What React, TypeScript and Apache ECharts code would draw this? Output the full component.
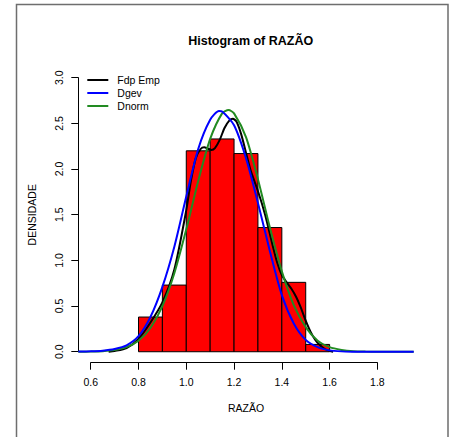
import React, { useEffect, useRef } from "react";
import * as echarts from "echarts";

// Histogram bins (class limits) and their densities
const breaks = [0.8, 0.9, 1.0, 1.1, 1.2, 1.3, 1.4, 1.5, 1.6];
const densities = [0.38, 0.73, 2.2, 2.33, 2.17, 1.36, 0.76, 0.08];

// Empirical density (kernel estimate)
const empX = [0.675, 0.7, 0.75, 0.8, 0.85, 0.9, 0.95, 1.0, 1.02, 1.04, 1.06, 1.075, 1.09, 1.105, 1.12, 1.14, 1.16, 1.18, 1.195, 1.21, 1.23, 1.25, 1.27, 1.3, 1.33, 1.36, 1.38, 1.4, 1.42, 1.44, 1.46, 1.48, 1.5, 1.52, 1.54, 1.56, 1.58, 1.6, 1.615];
const empY = [0.0, 0.008, 0.04, 0.14, 0.32, 0.54, 0.9, 1.55, 1.88, 2.12, 2.22, 2.24, 2.225, 2.21, 2.23, 2.32, 2.45, 2.53, 2.55, 2.52, 2.38, 2.18, 1.98, 1.76, 1.5, 1.18, 0.98, 0.84, 0.76, 0.69, 0.6, 0.48, 0.34, 0.22, 0.13, 0.07, 0.03, 0.01, 0.0];

// Fitted GEV density
const gevX = [0.548, 0.6, 0.65, 0.7, 0.75, 0.8, 0.85, 0.9, 0.95, 1.0, 1.05, 1.1, 1.137, 1.15, 1.2, 1.25, 1.3, 1.35, 1.4, 1.45, 1.5, 1.55, 1.6, 1.65, 1.7, 1.75, 1.85, 1.952];
const gevY = [0.002, 0.005, 0.012, 0.03, 0.07, 0.17, 0.38, 0.71, 1.15, 1.7, 2.22, 2.54, 2.635, 2.63, 2.48, 2.12, 1.63, 1.1, 0.62, 0.31, 0.13, 0.05, 0.015, 0.004, 0.001, 0, 0, 0];

// Fitted normal density
const normX = [0.548, 0.6, 0.65, 0.7, 0.75, 0.8, 0.85, 0.9, 0.95, 1.0, 1.05, 1.1, 1.15, 1.177, 1.2, 1.25, 1.3, 1.35, 1.4, 1.45, 1.5, 1.55, 1.6, 1.65, 1.7, 1.75, 1.8, 1.85, 1.952];
const normY = [0.0005, 0.002, 0.006, 0.018, 0.05, 0.12, 0.26, 0.5, 0.86, 1.34, 1.87, 2.33, 2.61, 2.646, 2.61, 2.35, 1.89, 1.36, 0.88, 0.51, 0.27, 0.12, 0.05, 0.02, 0.006, 0.002, 0.0005, 0.0001, 0];

const xTickMin = 0.6;
const xTickMax = 1.8;
const xTickStep = 0.2;
const yTickMin = 0;
const yTickMax = 3;
const yTickStep = 0.5;

const FONT = "Liberation Sans, Arial, Helvetica, sans-serif";

function zip(xs: number[], ys: number[]) {
  return xs.map((x, i) => [x, ys[i]]);
}

export default function App() {
  const ref = useRef<HTMLDivElement>(null);

  useEffect(() => {
    if (!ref.current) return;
    const chart = echarts.init(ref.current, undefined, { renderer: "svg" });

    const bins = densities.map((d, i) => [breaks[i], breaks[i + 1], d]);

    const lineSeries = (name: string, xs: number[], ys: number[], color: string) => ({
      name,
      type: "line",
      xAxisIndex: 0,
      yAxisIndex: 0,
      data: zip(xs, ys),
      symbol: "none",
      smooth: 0.25,
      clip: true,
      lineStyle: { color, width: 2 },
      itemStyle: { color },
      z: 3,
    });

    chart.setOption({
      animation: false,
      backgroundColor: "#ffffff",
      title: {
        text: "Histogram of RAZÃO",
        left: 245.7,
        top: 29,
        textAlign: "center",
        textStyle: { fontFamily: FONT, fontSize: 12.5, fontWeight: "bold", color: "#000" },
      },
      legend: {
        data: [
          { name: "Fdp Emp", icon: "rect" },
          { name: "Dgev", icon: "rect" },
          { name: "Dnorm", icon: "rect" },
        ],
        orient: "vertical",
        left: 87.3,
        top: 73.5,
        padding: 0,
        itemWidth: 21,
        itemHeight: 2,
        itemGap: 0,
        selectedMode: false,
        textStyle: { fontFamily: FONT, fontSize: 10.5, lineHeight: 13, color: "#000", padding: [0, 0, 0, 4] },
      },
      grid: [
        { left: 78.3, top: 66.8, width: 335.4, height: 295.9 },
        { left: 90.7, top: 66.8, width: 286.7, height: 295.9 },
        { left: 78.3, top: 77.7, width: 335.4, height: 274 },
      ],
      xAxis: [
        {
          gridIndex: 0,
          type: "value",
          min: 0.548,
          max: 1.952,
          axisLine: { show: false },
          axisTick: { show: false },
          axisLabel: { show: false },
          splitLine: { show: false },
          name: "RAZÃO",
          nameLocation: "middle",
          nameGap: 40,
          nameTextStyle: { fontFamily: FONT, fontSize: 10.5, color: "#000" },
        },
        {
          gridIndex: 1,
          type: "value",
          min: xTickMin,
          max: xTickMax,
          interval: xTickStep,
          axisLine: { show: true, lineStyle: { color: "#000", width: 1 } },
          axisTick: { show: true, length: 7, lineStyle: { color: "#000", width: 1 } },
          axisLabel: {
            margin: 19,
            verticalAlign: "middle",
            fontFamily: FONT,
            fontSize: 10.5,
            color: "#000",
            formatter: (v: number) => v.toFixed(1),
          },
          splitLine: { show: false },
        },
        { gridIndex: 2, type: "value", min: 0, max: 1, show: false },
      ],
      yAxis: [
        {
          gridIndex: 0,
          type: "value",
          min: -0.12,
          max: 3.12,
          axisLine: { show: false },
          axisTick: { show: false },
          axisLabel: { show: false },
          splitLine: { show: false },
          name: "DENSIDADE",
          nameLocation: "middle",
          nameRotate: 90,
          nameGap: 41,
          nameTextStyle: { fontFamily: FONT, fontSize: 10.5, color: "#000" },
        },
        { gridIndex: 1, type: "value", min: 0, max: 1, show: false },
        {
          gridIndex: 2,
          type: "value",
          min: yTickMin,
          max: yTickMax,
          interval: yTickStep,
          axisLine: { show: true, lineStyle: { color: "#000", width: 1 } },
          axisTick: { show: true, length: 7, lineStyle: { color: "#000", width: 1 } },
          axisLabel: {
            margin: 19,
            rotate: 90,
            align: "center",
            verticalAlign: "middle",
            fontFamily: FONT,
            fontSize: 10.5,
            color: "#000",
            formatter: (v: number) => v.toFixed(1),
          },
          splitLine: { show: false },
        },
      ],
      graphic: [
        {
          type: "rect",
          shape: { x: 16.5, y: 4.5, width: 431.5, height: 460 },
          style: { fill: "none", stroke: "#6e6e6e", lineWidth: 1.5 },
          silent: true,
        },
      ],
      series: [
        {
          type: "custom",
          xAxisIndex: 0,
          yAxisIndex: 0,
          data: bins,
          z: 2,
          renderItem: (params: any, api: any) => {
            const p0 = api.coord([api.value(0), api.value(2)]);
            const p1 = api.coord([api.value(1), 0]);
            return {
              type: "rect",
              shape: { x: p0[0], y: p0[1], width: p1[0] - p0[0], height: p1[1] - p0[1] },
              style: { fill: "#ff0000", stroke: "#000000", lineWidth: 1 },
            };
          },
        },
        lineSeries("Fdp Emp", empX, empY, "#000000"),
        lineSeries("Dnorm", normX, normY, "#228b22"),
        lineSeries("Dgev", gevX, gevY, "#0000ff"),
      ],
    });

    return () => chart.dispose();
  }, []);

  return (
    <div
      ref={ref}
      style={{ position: "absolute", left: 0, top: 0, width: 452, height: 437 }}
    />
  );
}
